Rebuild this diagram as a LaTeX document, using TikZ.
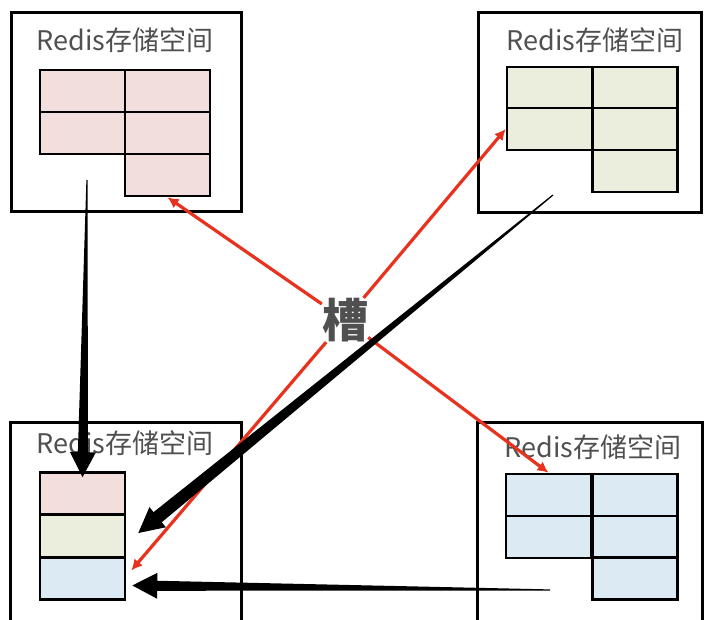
\documentclass[tikz,border=0pt]{standalone}
\usepackage{fontspec}
\usepackage{xcolor}
\usetikzlibrary{arrows.meta,calc}
\newfontfamily\cjk{Noto Sans CJK SC}

\definecolor{pinkcell}{HTML}{F2DEDC}
\definecolor{greencell}{HTML}{EBEDDD}
\definecolor{bluecell}{HTML}{DCEAF3}
\definecolor{slotred}{HTML}{E8321E}
\definecolor{titlegray}{HTML}{505050}

\tikzset{
  store/.style={draw, line width=3pt, inner sep=0pt},
  title/.style={font=\cjk\fontsize{27}{30}\selectfont, text=titlegray, inner sep=0pt},
  cell/.style={draw, line width=2.6pt, inner sep=0pt, minimum width=85pt, minimum height=42pt},
  slotlink/.style={draw=slotred, line width=3.2pt, -{Latex[length=11pt,width=11pt]}}
}

% tapered black arrow: #1 start, #2 tip, #3 shaft half width at head
\newcommand{\taperarrow}[3]{%
  \path ($(#2)!25pt!(#1)$) coordinate (hb);
  \fill ($(#1)!0.6pt!90:(#2)$) -- ($(hb)!#3!90:(#2)$) -- ($(hb)!13pt!90:(#2)$)
    -- (#2) -- ($(hb)!13pt!-90:(#2)$) -- ($(hb)!#3!-90:(#2)$)
    -- ($(#1)!0.6pt!-90:(#2)$) -- cycle;
}

\begin{document}
\begin{tikzpicture}[x=1pt, y=-1pt]
\useasboundingbox[fill=white] (0,0) rectangle (707,620);

% storage boxes
\node[store, minimum width=230pt, minimum height=199pt] (tl) at (126,112.5) {};
\node[store, minimum width=223pt, minimum height=200pt] (tr) at (589.5,113) {};
\node[store, minimum width=231pt, minimum height=240pt] (bl) at (125.5,542) {};
\node[store, minimum width=225pt, minimum height=240pt] (br) at (589.5,542) {};
\node[title] (tltitle) at (125,40) {Redis存储空间};
\node[title] (trtitle) at (595,40) {Redis存储空间};
\node[title] (bltitle) at (125,443) {Redis存储空间};
\node[title] (brtitle) at (593,447) {Redis存储空间};

% top left slots
\node[cell, fill=pinkcell] (tl11) at (82.5,91) {};
\node[cell, fill=pinkcell] (tl12) at (167.5,91) {};
\node[cell, fill=pinkcell] (tl21) at (82.5,133) {};
\node[cell, fill=pinkcell] (tl22) at (167.5,133) {};
\node[cell, fill=pinkcell] (tl32) at (167.5,175) {};

% top right slots
\node[cell, fill=greencell] (tr11) at (549.5,88) {};
\node[cell, fill=greencell] (tr12) at (635,88) {};
\node[cell, fill=greencell] (tr21) at (549.5,129) {};
\node[cell, fill=greencell] (tr22) at (635,129) {};
\node[cell, fill=greencell] (tr32) at (635,171) {};

% bottom right slots
\node[cell, fill=bluecell] (br11) at (548.5,495) {};
\node[cell, fill=bluecell] (br12) at (635,495) {};
\node[cell, fill=bluecell] (br21) at (548.5,537) {};
\node[cell, fill=bluecell] (br22) at (635,537) {};
\node[cell, fill=bluecell] (br32) at (635,578.5) {};

% bottom left slots
\node[cell, fill=pinkcell] (bl1) at (82.5,493.5) {};
\node[cell, fill=greencell] (bl2) at (82.5,536) {};
\node[cell, fill=bluecell] (bl3) at (82.5,578.5) {};

% slot label and red links
\node[font=\cjk\bfseries\fontsize{46}{50}\selectfont, text=titlegray, inner sep=0pt] (slot) at (345,320) {槽};
\draw[slotlink] (slot) -- (tl32.south);
\draw[slotlink] (slot) -- (tr21.west);
\draw[slotlink] (slot) -- (br11.north);
\draw[slotlink] (slot) -- ($(bl3.east)+(5,-8)$);

% black moves
\coordinate (tlfrom) at (87,180);
\coordinate (trfrom) at (553,195);
\coordinate (brfrom) at (550,590);
\taperarrow{tlfrom}{$(bl1.north)+(0,6)$}{5pt}
\taperarrow{trfrom}{$(bl2.east)+(12,-3)$}{6.5pt}
\taperarrow{brfrom}{$(bl3.east)+(6,7)$}{5pt}
\end{tikzpicture}
\end{document}
